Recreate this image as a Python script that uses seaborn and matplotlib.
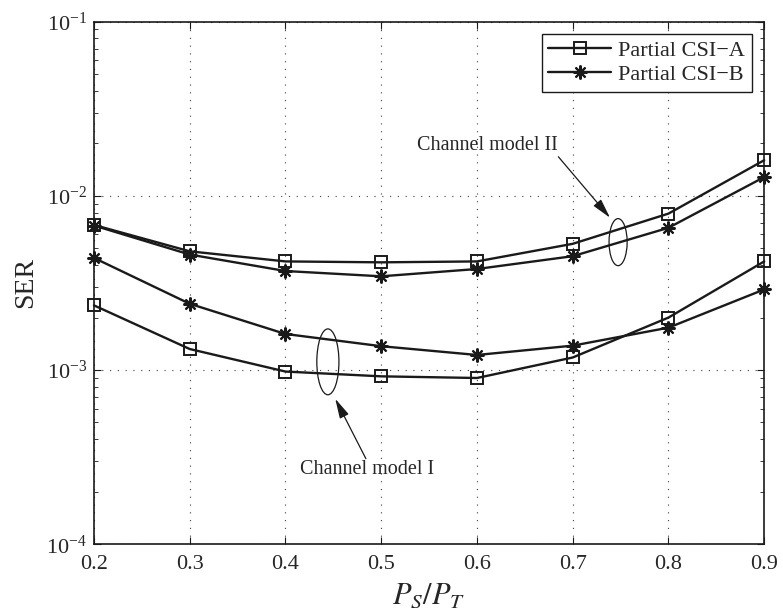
import numpy as np
import pandas as pd
import matplotlib
matplotlib.use("Agg")
import matplotlib.pyplot as plt
from matplotlib.patches import Ellipse
from matplotlib.ticker import LogLocator, LogFormatterSciNotation, NullFormatter
import seaborn as sns

# ---- data ----
ps_pt = [0.2, 0.3, 0.4, 0.5, 0.6, 0.7, 0.8, 0.9]
ser_model2_A = [6.8e-3, 4.8e-3, 4.2e-3, 4.15e-3, 4.2e-3, 5.3e-3, 7.9e-3, 1.6e-2]
ser_model2_B = [6.75e-3, 4.6e-3, 3.7e-3, 3.45e-3, 3.8e-3, 4.5e-3, 6.55e-3, 1.28e-2]
ser_model1_A = [2.35e-3, 1.32e-3, 9.8e-4, 9.2e-4, 9.0e-4, 1.18e-3, 2.0e-3, 4.2e-3]
ser_model1_B = [4.4e-3, 2.4e-3, 1.61e-3, 1.37e-3, 1.22e-3, 1.38e-3, 1.75e-3, 2.9e-3]
legend_labels = ["Partial CSI\u2212A", "Partial CSI\u2212B"]
x_ticks = [0.2, 0.3, 0.4, 0.5, 0.6, 0.7, 0.8, 0.9]

sns.set_theme(style="ticks")
plt.rcParams["font.family"] = ["Liberation Serif", "DejaVu Serif"]
plt.rcParams["mathtext.fontset"] = "stix"

fig = plt.figure(figsize=(7.83, 6.15), dpi=100)
ax = fig.add_axes([0.120, 0.115, 0.856, 0.850])

sq = dict(marker="s", markersize=8, markerfacecolor="none",
          markeredgecolor="k", markeredgewidth=1.4)
st = dict(marker=(8, 2, 0), markersize=10, markerfacecolor="k",
          markeredgecolor="k", markeredgewidth=1.5)
common = dict(color="k", linewidth=1.7, ax=ax, legend=False, clip_on=False, zorder=5)

df = pd.DataFrame({"x": ps_pt, "m2a": ser_model2_A, "m2b": ser_model2_B,
                   "m1a": ser_model1_A, "m1b": ser_model1_B})

sns.lineplot(data=df, x="x", y="m2a", label=legend_labels[0], **common, **sq)
sns.lineplot(data=df, x="x", y="m2b", label=legend_labels[1], **common, **st)
sns.lineplot(data=df, x="x", y="m1a", **common, **sq)
sns.lineplot(data=df, x="x", y="m1b", **common, **st)

ax.set_yscale("log")
ax.set_xlim(0.2, 0.9)
ax.set_ylim(1e-4, 1e-1)
ax.set_xticks(x_ticks)
ax.set_xticklabels([f"{t:.1f}" for t in x_ticks])
ax.yaxis.set_major_locator(LogLocator(base=10, numticks=10))
ax.yaxis.set_major_formatter(LogFormatterSciNotation())
ax.yaxis.set_minor_locator(LogLocator(base=10, subs=np.arange(2, 10), numticks=100))
ax.yaxis.set_minor_formatter(NullFormatter())

ax.grid(True, which="major", linestyle=(0, (1, 6)), color="0.25", linewidth=0.8)
ax.tick_params(which="both", direction="in", top=True, right=True, color="k")
ax.tick_params(which="major", length=5, width=0.8, labelsize=16, pad=8)
ax.tick_params(axis="y", which="major", pad=5)
ax.tick_params(which="minor", length=3, width=0.6)
for s in ax.spines.values():
    s.set_color("k")
    s.set_linewidth(1.2)

ax.set_xlabel(r"$P_S/P_T$", fontsize=22, labelpad=5)
ax.set_ylabel("SER", fontsize=20, labelpad=6)

leg = ax.legend(loc="upper right", fontsize=16, frameon=True, fancybox=False,
                edgecolor="k", framealpha=1, handlelength=2.8, borderaxespad=0.55,
                labelspacing=0.15, borderpad=0.3, handletextpad=0.35)
leg.get_frame().set_linewidth(1.0)
leg.set_zorder(10)

# annotations
ax.add_patch(Ellipse((0.782, 0.578), 0.027, 0.090, transform=ax.transAxes,
                     fill=False, edgecolor="k", linewidth=0.9))
ax.add_patch(Ellipse((0.349, 0.349), 0.033, 0.126, transform=ax.transAxes,
                     fill=False, edgecolor="k", linewidth=0.9))
arrow = dict(arrowstyle="-|>,head_length=1.0,head_width=0.25", color="k",
             linewidth=0.9, shrinkA=0, shrinkB=0)
ax.annotate("", xy=(0.739, 7.48e-3), xytext=(0.685, 1.675e-2), arrowprops=arrow)
ax.text(0.611, 1.94e-2, "Channel model II", fontsize=14.5, ha="center", va="center")
ax.annotate("", xy=(0.452, 6.84e-4), xytext=(0.484, 3.10e-4), arrowprops=arrow)
ax.text(0.485, 2.68e-4, "Channel model I", fontsize=14.5, ha="center", va="center")

fig.savefig("out.png", dpi=100)
